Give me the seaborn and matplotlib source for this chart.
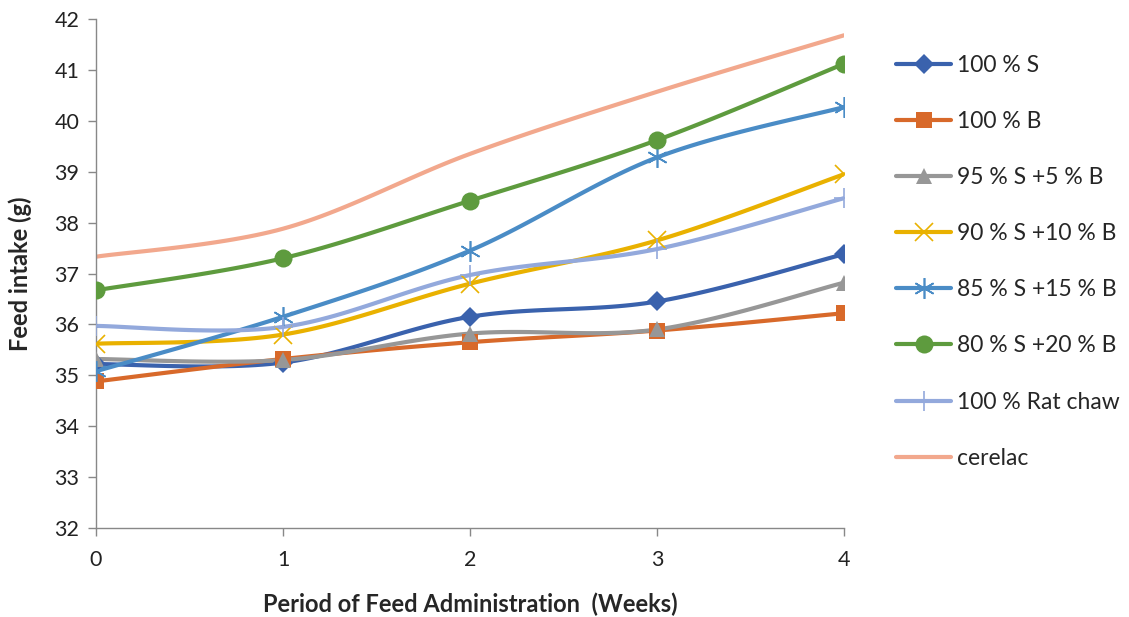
import numpy as np
import pandas as pd
import seaborn as sns
import matplotlib
matplotlib.use("Agg")
import matplotlib.pyplot as plt
from matplotlib.lines import Line2D

weeks = [0, 1, 2, 3, 4]
s100 = [35.22, 35.25, 36.15, 36.45, 37.38]
b100 = [34.88, 35.32, 35.65, 35.88, 36.22]
s95 = [35.32, 35.30, 35.82, 35.90, 36.82]
s90 = [35.62, 35.80, 36.80, 37.65, 38.95]
s85 = [35.08, 36.15, 37.45, 39.28, 40.27]
s80 = [36.67, 37.30, 38.43, 39.62, 41.12]
ratchaw = [35.97, 35.95, 36.97, 37.48, 38.48]
cerelac = [37.33, 37.88, 39.35, 40.57, 41.68]

labels = ["100 % S", "100 % B", "95 % S +5 % B", "90 % S +10 % B",
          "85 % S +15 % B", "80 % S +20 % B", "100 % Rat chaw", "cerelac"]
series = [s100, b100, s95, s90, s85, s80, ratchaw, cerelac]
colors = ["#3A62AD", "#D8692A", "#979797", "#E9B100", "#4A8CC6", "#5E9B3E", "#93A9DC", "#F2A88D"]
markers = ["D", "s", "^", "x", "*", "o", "+", None]
msizes = [10, 11, 11, 13, 15, 13, 15, 0]

sns.set_theme(style="white")
plt.rcParams['font.family'] = ['Lato', 'DejaVu Sans']

fig = plt.figure(figsize=(11.29, 6.17), dpi=100)
ax = fig.add_axes([96/1129, 1-528/617, (844-96)/1129, (528-19)/617])


def smooth(xs, ys, n=30):
    # Catmull-Rom style display smoothing (like Excel "smoothed line")
    xs = np.asarray(xs, float); ys = np.asarray(ys, float)
    P = np.column_stack([xs, ys])
    P = np.vstack([P[0], P, P[-1]])
    out = []
    for i in range(1, len(P) - 2):
        p0, p1, p2, p3 = P[i-1], P[i], P[i+1], P[i+2]
        c1 = p1 + (p2 - p0) / 6
        c2 = p2 - (p3 - p1) / 6
        t = np.linspace(0, 1, n)[:, None]
        seg = (1-t)**3*p1 + 3*(1-t)**2*t*c1 + 3*(1-t)*t**2*c2 + t**3*p2
        out.append(seg if i == 1 else seg[1:])
    out = np.vstack(out)
    return out[:, 0], out[:, 1]


handles = []
for lab, ys, c, m, ms in zip(labels, series, colors, markers, msizes):
    sx, sy = smooth(weeks, ys)
    df = pd.DataFrame({"x": sx, "y": sy})
    sns.lineplot(data=df, x="x", y="y", ax=ax, color=c, linewidth=3, sort=False, estimator=None)
    if m is not None:
        lw = 1.2 if m in ("x", "+", "*") else 0
        mk = (6, 2, 0) if m == "*" else m
        ax.plot(weeks, ys, linestyle="none", marker=mk, markersize=ms, color=c,
                markeredgewidth=lw, zorder=5)
        handles.append(Line2D([], [], color=c, lw=3, marker=mk, markersize=ms,
                              markeredgewidth=lw))
    else:
        handles.append(Line2D([], [], color=c, lw=3))

ax.set_xlim(0, 4)
ax.set_ylim(32, 42)
ax.set_xticks(weeks)
ax.set_yticks(range(32, 43))
ax.tick_params(axis="both", which="both", direction="out", length=6, width=1,
               color="#888888", labelsize=15.5, labelcolor="#222222", pad=6, left=True, bottom=True)
ax.tick_params(axis="x", pad=10)
for side in ["top", "right"]:
    ax.spines[side].set_visible(False)
for side in ["left", "bottom"]:
    ax.spines[side].set_color("#888888")
    ax.spines[side].set_linewidth(1)

ax.set_xlabel("Period of Feed Administration  (Weeks)", fontsize=17, fontweight="bold", labelpad=16)
ax.set_ylabel("Feed intake (g)", fontsize=17, fontweight="bold", labelpad=16)

fig.legend(handles=handles, labels=labels, loc="upper left", bbox_to_anchor=(887/1129, 1-46/617),
           frameon=False, fontsize=16.5, handlelength=2.4, labelspacing=1.53, handletextpad=0.25,
           borderaxespad=0)

fig.savefig("out.png", dpi=100)
